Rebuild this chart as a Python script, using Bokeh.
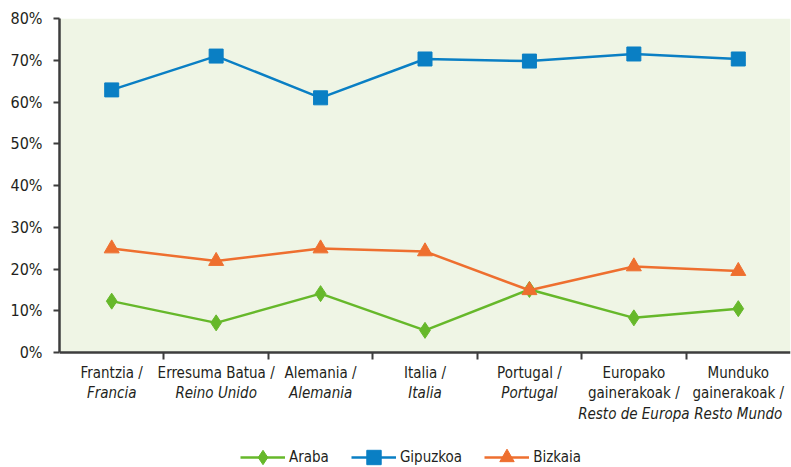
from bokeh.plotting import figure
from bokeh.models import (Range1d, FixedTicker, PrintfTickFormatter, Label, Legend,
                          LegendItem, BoxAnnotation)
from bokeh.embed import file_html
from bokeh.resources import INLINE

# ---- data ----
cat_eu = ["Frantzia /", "Erresuma Batua /", "Alemania /", "Italia /", "Portugal /",
          "Europako\ngainerakoak /", "Munduko\ngainerakoak /"]
cat_es = ["Francia", "Reino Unido", "Alemania", "Italia", "Portugal",
          "Resto de Europa", "Resto Mundo"]
araba = [12.3, 7.1, 14.1, 5.3, 15.1, 8.3, 10.5]
gipuzkoa = [62.9, 71.0, 61.0, 70.3, 69.8, 71.5, 70.3]
bizkaia = [24.9, 21.9, 24.9, 24.2, 14.9, 20.6, 19.5]
y_ticks = [0, 10, 20, 30, 40, 50, 60, 70, 80]

FONT = "DejaVu Sans Condensed"
TXT = "#231f20"
AX = "#3d3d3d"
GREEN = "#66b82a"
BLUE = "#0a7fc4"
ORANGE = "#ee6f2f"
PLOT_BG = "#eff5e5"

n = len(cat_eu)
xs = [i + 0.5 for i in range(n)]
boundaries = list(range(1, n))

# layout (pixels)
W, H = 791, 467
TOP, LEFT = 18, 59
PLOT_PX = 334           # pixels from 0% to 80%
FRAME_PX = H - TOP      # frame reaches the bottom of the canvas
ppu = PLOT_PX / 80.0    # pixels per data unit
y_low = -(FRAME_PX - PLOT_PX) / ppu

p = figure(width=W, height=H, output_backend="svg", toolbar_location=None,
           x_range=Range1d(0, n), y_range=Range1d(y_low, 80),
           min_border_left=LEFT, min_border_right=1, min_border_top=TOP, min_border_bottom=0)
p.background_fill_color = "white"
p.border_fill_color = "white"
p.outline_line_color = None

# tinted plotting area above the axis
p.add_layout(BoxAnnotation(bottom=0, fill_color=PLOT_BG, fill_alpha=1, line_color=None,
                           level="underlay"))

# axes
p.yaxis.ticker = FixedTicker(ticks=y_ticks)
p.yaxis.bounds = (0, 80)
p.yaxis.formatter = PrintfTickFormatter(format="%d%%")
p.yaxis.major_label_text_font = FONT
p.yaxis.major_label_text_font_size = "16px"
p.yaxis.major_label_text_color = TXT
p.yaxis.major_label_standoff = 11
p.yaxis.axis_line_color = AX
p.yaxis.axis_line_width = 2.5
p.yaxis.major_tick_line_color = AX
p.yaxis.major_tick_line_width = 2
p.yaxis.major_tick_out = 6
p.yaxis.major_tick_in = 0
p.yaxis.minor_tick_line_color = None

p.xaxis.fixed_location = 0
p.xaxis.ticker = FixedTicker(ticks=boundaries)
p.xaxis.major_label_overrides = {b: "" for b in boundaries}
p.xaxis.axis_line_color = AX
p.xaxis.axis_line_width = 2.5
p.xaxis.major_tick_line_color = AX
p.xaxis.major_tick_line_width = 2
p.xaxis.major_tick_out = 7
p.xaxis.major_tick_in = 0
p.xaxis.minor_tick_line_color = None

p.xgrid.grid_line_color = None
p.ygrid.ticker = FixedTicker(ticks=y_ticks[1:])
p.ygrid.grid_line_color = "white"
p.ygrid.grid_line_width = 2

# series
la = p.line(xs, araba, line_color=GREEN, line_width=2.5)
sa = p.scatter(xs, araba, marker="diamond", size=16, fill_color=GREEN, line_color=GREEN)
lg = p.line(xs, gipuzkoa, line_color=BLUE, line_width=2.5)
sg = p.scatter(xs, gipuzkoa, marker="square", size=14, fill_color=BLUE, line_color=BLUE)
lb = p.line(xs, bizkaia, line_color=ORANGE, line_width=2.5)
sb = p.scatter(xs, bizkaia, marker="triangle", size=15, fill_color=ORANGE, line_color=ORANGE)

# category labels below the axis
FIRST, STEP = 20, 20.5
for i, (eu, es) in enumerate(zip(cat_eu, cat_es)):
    lines = [(t, "normal") for t in eu.split("\n")] + [(es, "italic")]
    for k, (t, style) in enumerate(lines):
        p.add_layout(Label(x=xs[i], y=-(FIRST + STEP * k) / ppu, text=t,
                           text_font=FONT, text_font_size="15px", text_color=TXT,
                           text_font_style=style,
                           text_align="center", text_baseline="middle"))

legend = Legend(items=[LegendItem(label="Araba", renderers=[la, sa]),
                       LegendItem(label="Gipuzkoa", renderers=[lg, sg]),
                       LegendItem(label="Bizkaia", renderers=[lb, sb])],
                orientation="horizontal", location=(181, -8),
                glyph_width=45, glyph_height=36, label_standoff=4, spacing=22,
                padding=0, margin=0,
                label_text_font=FONT, label_text_font_size="15px", label_text_color=TXT,
                border_line_color=None, background_fill_alpha=0)
p.add_layout(legend, "center")

open("out.html", "w").write(file_html(p, INLINE))
